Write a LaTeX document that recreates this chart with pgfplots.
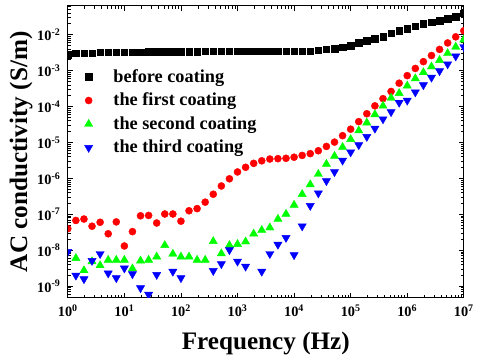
\documentclass[border=0pt]{standalone}
\usepackage{pgfplots}
\pgfplotsset{compat=1.18}
\usepackage{pgfplotstable}
\usepackage{fontspec}
\setmainfont{Liberation Serif}

\pgfplotstableread{
f before first second third
1 2.818e-3 3.981e-8 nan 9.120e-9
1.3895 3.090e-3 6.761e-8 6.026e-9 1.995e-9
1.9307 3.090e-3 7.413e-8 2.754e-9 1.585e-9
2.6827 3.090e-3 4.677e-8 4.898e-9 5.129e-9
3.7276 3.236e-3 6.026e-8 3.802e-9 7.943e-9
5.1795 3.236e-3 2.884e-8 5.370e-9 2.291e-9
7.1969 3.236e-3 6.166e-8 5.370e-9 1.698e-9
10 3.236e-3 1.318e-8 5.370e-9 3.162e-9
13.895 3.236e-3 3.311e-8 3.090e-9 2.188e-9
19.307 3.236e-3 9.120e-8 5.129e-9 8.913e-10
26.827 3.388e-3 9.333e-8 5.370e-9 5.888e-10
37.276 3.388e-3 5.754e-8 6.607e-9 2.089e-9
51.795 3.388e-3 1.023e-7 1.380e-8 nan
71.969 3.388e-3 1.023e-7 7.943e-9 2.570e-9
100 3.388e-3 6.457e-8 6.607e-9 1.698e-9
138.95 3.388e-3 1.259e-7 6.607e-9 nan
193.07 3.388e-3 1.445e-7 5.370e-9 nan
268.27 3.467e-3 2.188e-7 5.370e-9 nan
372.76 3.467e-3 3.631e-7 1.778e-8 2.692e-9
517.95 3.467e-3 6.166e-7 8.128e-9 4.169e-9
719.69 3.467e-3 9.772e-7 1.380e-8 1.023e-8
1000 3.467e-3 1.514e-6 1.479e-8 4.898e-9
1389.5 3.467e-3 2.042e-6 1.738e-8 3.548e-9
1930.7 3.467e-3 2.630e-6 2.884e-8 nan
2682.7 3.467e-3 3.090e-6 3.631e-8 2.570e-9
3727.6 3.467e-3 3.467e-6 4.266e-8 7.943e-9
5179.5 3.467e-3 3.548e-6 7.413e-8 1.445e-8
7196.9 3.467e-3 3.631e-6 1.023e-7 2.239e-8
10000 3.467e-3 3.890e-6 1.820e-7 7.413e-9
13895 3.467e-3 4.365e-6 3.631e-7 4.677e-8
19307 3.467e-3 4.898e-6 6.761e-7 1.738e-7
26827 3.715e-3 5.888e-6 1.318e-6 3.890e-7
37276 3.890e-3 7.762e-6 2.512e-6 8.511e-7
51795 4.074e-3 1.023e-5 4.169e-6 1.514e-6
71969 4.467e-3 1.549e-5 7.413e-6 3.162e-6
1e5 5.012e-3 2.344e-5 1.230e-5 5.370e-6
138950 5.888e-3 3.802e-5 2.138e-5 8.511e-6
193070 6.761e-3 6.310e-5 3.548e-5 1.445e-5
268270 7.762e-3 1.047e-4 6.026e-5 2.455e-5
372760 8.913e-3 1.660e-4 1.047e-4 4.467e-5
517950 1.096e-2 2.630e-4 1.738e-4 7.079e-5
719690 1.288e-2 4.467e-4 2.344e-4 1.288e-4
1e6 1.479e-2 7.244e-4 3.802e-4 1.479e-4
1389500 1.698e-2 1.148e-3 6.026e-4 2.512e-4
1930700 1.995e-2 1.778e-3 8.913e-4 3.981e-4
2682700 2.239e-2 2.630e-3 1.288e-3 6.457e-4
3727600 2.455e-2 3.890e-3 1.950e-3 9.772e-4
5179500 2.754e-2 5.888e-3 3.020e-3 1.514e-3
7196900 3.162e-2 8.710e-3 4.571e-3 2.512e-3
1e7 3.981e-2 1.288e-2 7.244e-3 4.571e-3
}\datatable

\begin{document}
\begin{tikzpicture}
\begin{axis}[name=ax,
  scale only axis, width=401.3pt, height=295.7pt,
  xmode=log, ymode=log,
  xmin=1, xmax=1e7, ymin=4.786e-10, ymax=6.31e-2,
  clip marker paths=true,
  axis line style={line width=1pt},
  every tick/.style={black, line width=0.8pt},
  major tick length=5pt, minor tick length=3pt,
  xtick={1,10,100,1000,10000,100000,1000000,10000000},
  xticklabels={10\textsuperscript{0},10\textsuperscript{1},10\textsuperscript{2},10\textsuperscript{3},10\textsuperscript{4},10\textsuperscript{5},10\textsuperscript{6},10\textsuperscript{7}},
  minor xtick={2,3,4,5,6,7,8,9,20,30,40,50,60,70,80,90,200,300,400,500,600,700,800,900,2000,3000,4000,5000,6000,7000,8000,9000,2e4,3e4,4e4,5e4,6e4,7e4,8e4,9e4,2e5,3e5,4e5,5e5,6e5,7e5,8e5,9e5,2e6,3e6,4e6,5e6,6e6,7e6,8e6,9e6},
  ytick={1e-9,1e-8,1e-7,1e-6,1e-5,1e-4,1e-3,1e-2},
  yticklabels={10\textsuperscript{-9},10\textsuperscript{-8},10\textsuperscript{-7},10\textsuperscript{-6},10\textsuperscript{-5},10\textsuperscript{-4},10\textsuperscript{-3},10\textsuperscript{-2}},
  minor ytick={5e-10,6e-10,7e-10,8e-10,9e-10,2e-9,3e-9,4e-9,5e-9,6e-9,7e-9,8e-9,9e-9,2e-8,3e-8,4e-8,5e-8,6e-8,7e-8,8e-8,9e-8,2e-7,3e-7,4e-7,5e-7,6e-7,7e-7,8e-7,9e-7,2e-6,3e-6,4e-6,5e-6,6e-6,7e-6,8e-6,9e-6,2e-5,3e-5,4e-5,5e-5,6e-5,7e-5,8e-5,9e-5,2e-4,3e-4,4e-4,5e-4,6e-4,7e-4,8e-4,9e-4,2e-3,3e-3,4e-3,5e-3,6e-3,7e-3,8e-3,9e-3,2e-2,3e-2,4e-2,5e-2,6e-2},
  tick label style={font=\fontsize{14.5}{17}\selectfont\bfseries},
  xticklabel style={yshift=-4pt},
  yticklabel style={xshift=-4pt},
  xlabel={Frequency (Hz)},
  ylabel={AC conductivity (S/m)},
  xlabel style={at={(axis description cs:0.5,-0.118)}, anchor=north, inner sep=0pt, font=\fontsize{25.5}{30}\selectfont\bfseries},
  ylabel style={at={(axis description cs:-0.0882,0.5)}, anchor=south, inner sep=0pt, font=\fontsize{25.5}{30}\selectfont\bfseries},
  legend image code/.code={\draw[mark repeat=2,mark phase=2,#1] plot coordinates {(0pt,0pt) (5pt,0pt) (10pt,0pt)};},
  legend style={draw=none, fill=none, at={(0,1)}, anchor=north west, xshift=16.8pt, yshift=-63pt,
    inner sep=0pt, row sep=6.4pt, column sep=21pt,
    nodes={inner sep=0pt, text height=14pt, text depth=3.5pt},
    font=\fontsize{18.5}{22}\selectfont\bfseries},
  legend cell align=left,
]
\addplot[only marks, mark=square*, mark size=3.3pt, black] table[x=f, y=before]{\datatable};
\addlegendentry{before coating}
\addplot[only marks, mark=*, mark size=3.6pt, red] table[x=f, y=first]{\datatable};
\addlegendentry{the first coating}
\addplot[only marks, mark=triangle*, mark size=4.8pt, green] table[x=f, y=second]{\datatable};
\addlegendentry{the second coating}
\addplot[only marks, mark=triangle*, mark size=4.8pt, blue, mark options={rotate=180}] table[x=f, y=third]{\datatable};
\addlegendentry{the third coating}
\end{axis}
\path ([xshift=-68.7pt, yshift=-63.3pt]ax.south west) rectangle ([xshift=7pt, yshift=6pt]ax.north east);
\end{tikzpicture}
\end{document}
